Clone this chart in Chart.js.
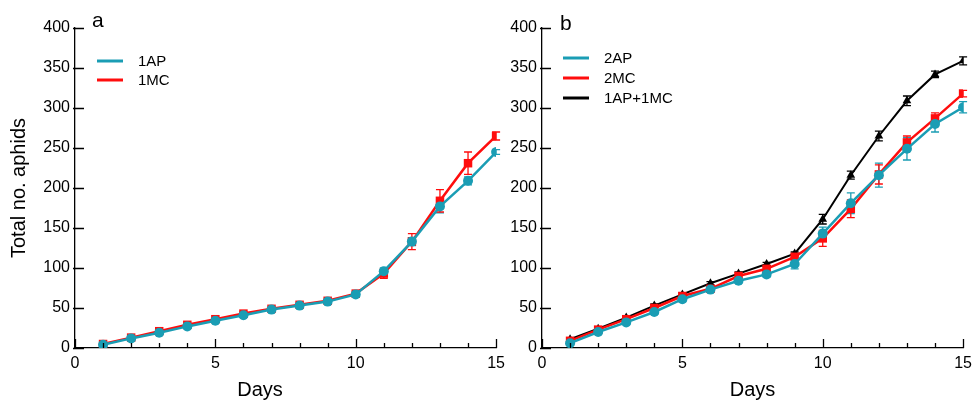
<!DOCTYPE html>
<html><head><meta charset="utf-8">
<script src="https://cdn.jsdelivr.net/npm/chart.js@4.4.0/dist/chart.umd.min.js"></script>
<style>
html,body{margin:0;padding:0;background:#fff;}
#wrap{position:relative;width:972px;height:404px;overflow:hidden;}
#ca{position:absolute;left:0;top:0;width:511px;height:404px;}
#cb{position:absolute;left:510px;top:0;width:468px;height:404px;}
</style></head><body>
<div id="wrap"><div id="ca"><canvas id="a"></canvas></div><div id="cb"><canvas id="b"></canvas></div></div>
<script>
const days = [1,2,3,4,5,6,7,8,9,10,11,12,13,14,15];
const xLabelTicks = [0,5,10,15];
const yTickValues = [0,50,100,150,200,250,300,350,400];

// Panel a
const ap1    = [4, 12, 19, 27, 34, 41, 48, 53, 58, 67, 96, 133, 177, 209, 245];
const ap1Err = [1.5,1.5,2,2,2,2,2,2,2,2,4,5,8,5,3];
const mc1    = [5, 13, 21, 29, 36, 43, 49, 54, 59, 68, 93, 133, 184, 231, 265];
const mc1Err = [1,1.5,2,2,2,2,2,2,2,2,6,10,14,14,5];

// Panel b
const ap2     = [6, 20, 32, 45, 61, 73, 84, 92, 105, 143, 181, 216, 249, 280, 301];
const ap2Err  = [2,2,2,3,3,3,3,3,6,8,13,15,14,10,7];
const mc2     = [9, 23, 36, 50, 65, 74, 90, 99, 114, 137, 174, 217, 257, 287, 318];
const mc2Err  = [2,2,2,2,2,2,2,2,3,10,11,12,8,7,4];
const apmc    = [11, 24, 38, 53, 67, 81, 93, 105, 118, 161, 216, 265, 309, 342, 359];
const apmcErr = [2,2,2,2,2,2,2,2,2,6,5,6,6,4,5];

const TEAL = '#1a9db4', RED = '#ff0d0d', BLACK = '#000000';
const FONT = 'Liberation Sans, Arial, Helvetica, sans-serif';

function pts(arr){ return days.map((d,i)=>({x:d,y:arr[i]})); }

function ds(label, arr, err, color, style, radius, lw){
  return {label, data: pts(arr), err, borderColor: color, backgroundColor: color,
    pointStyle: style, pointRadius: radius, pointHoverRadius: radius, pointBorderWidth: 0,
    borderWidth: lw, tension: 0, fill: false};
}

const errorBars = {
  id: 'errorBars',
  beforeDatasetsDraw(chart){
    const ctx = chart.ctx, xs = chart.scales.x, ys = chart.scales.y;
    chart.data.datasets.forEach((d, i) => {
      if (!d.err) return;
      ctx.save();
      ctx.strokeStyle = d.borderColor; ctx.lineWidth = 1.3;
      d.data.forEach((p, j) => {
        const e = d.err[j];
        const x = xs.getPixelForValue(p.x);
        const y1 = ys.getPixelForValue(p.y + e), y2 = ys.getPixelForValue(p.y - e);
        ctx.beginPath();
        ctx.moveTo(x, y1); ctx.lineTo(x, y2);
        ctx.moveTo(x-4, y1); ctx.lineTo(x+4, y1);
        ctx.moveTo(x-4, y2); ctx.lineTo(x+4, y2);
        ctx.stroke();
      });
      ctx.restore();
    });
  }
};

const innerTicks = {
  id: 'innerTicks',
  afterDraw(chart){
    const ctx = chart.ctx, xs = chart.scales.x, ys = chart.scales.y;
    const a = chart.chartArea;
    ctx.save();
    ctx.strokeStyle = '#000'; ctx.lineWidth = 1.3;
    ctx.beginPath();
    for (let v = 0; v <= 15; v++) {
      const x = Math.round(xs.getPixelForValue(v)) + 0.5;
      const len = (v % 5 === 0) ? 9 : 5;
      ctx.moveTo(x, a.bottom); ctx.lineTo(x, a.bottom - len);
    }
    yTickValues.forEach(v => {
      const y = Math.round(ys.getPixelForValue(v)) + 0.5;
      ctx.moveTo(a.left - 2, y); ctx.lineTo(a.left + 9, y);
    });
    ctx.stroke();
    ctx.restore();
  }
};

const extras = {
  id: 'extras',
  afterDraw(chart){
    const o = chart.options.plugins.extras;
    const ctx = chart.ctx;
    ctx.save();
    ctx.fillStyle = '#000';
    ctx.textBaseline = 'alphabetic';
    ctx.textAlign = 'left';
    ctx.font = '21px ' + FONT;
    ctx.fillText(o.panel, o.panelX, o.panelY);
    if (o.xTitle) {
      ctx.font = '20px ' + FONT;
      ctx.textAlign = 'center';
      ctx.textBaseline = 'middle';
      ctx.fillText(o.xTitle, o.xTitleX, o.xTitleY);
    }
    // legend
    ctx.font = '15px ' + FONT;
    ctx.textAlign = 'left';
    ctx.textBaseline = 'middle';
    chart.data.datasets.forEach((d, i) => {
      const y = o.legY + i * o.legGap;
      ctx.strokeStyle = d.borderColor; ctx.lineWidth = 3;
      ctx.beginPath(); ctx.moveTo(o.legX, y); ctx.lineTo(o.legX + 26, y); ctx.stroke();
      ctx.fillStyle = '#000';
      ctx.fillText(d.label, o.legX + 41, y + 1);
    });
    ctx.restore();
  }
};

function makeOpts(yWidth, padRight, showYTitle, ex){
  return {
    responsive: true, maintainAspectRatio: false, animation: false, devicePixelRatio: 1,
    layout: { padding: { left: 0, right: padRight, top: 28, bottom: 0 } },
    plugins: { legend: { display: false }, tooltip: { enabled: false }, extras: ex },
    scales: {
      x: {
        type: 'linear', min: 0, max: 15,
        afterBuildTicks: s => { s.ticks = xLabelTicks.map(v => ({value: v})); },
        afterFit: s => { s.height = 56; },
        ticks: { color: '#000', font: { family: FONT, size: 16 }, padding: 6, maxRotation: 0, autoSkip: false },
        grid: { display: false, drawTicks: false },
        border: { display: true, color: '#000', width: 1.3 },
        title: { display: !!ex.useXTitle, text: 'Days', color: '#000', font: { family: FONT, size: 20 }, padding: { top: 0, bottom: 2 } }
      },
      y: {
        type: 'linear', min: 0, max: 400,
        afterBuildTicks: s => { s.ticks = yTickValues.map(v => ({value: v})); },
        afterFit: s => { s.width = yWidth; },
        ticks: { color: '#000', font: { family: FONT, size: 16 }, padding: 5 },
        grid: { display: false, drawTicks: false },
        border: { display: true, color: '#000', width: 1.3 },
        title: { display: showYTitle, text: 'Total no. aphids', color: '#000', font: { family: FONT, size: 20 }, padding: { top: 7, bottom: 0 } }
      }
    }
  };
}

new Chart(document.getElementById('a'), {
  type: 'line',
  data: { datasets: [
    ds('1AP', ap1, ap1Err, TEAL, 'circle', 5, 2.5),
    ds('1MC', mc1, mc1Err, RED, 'rect', 6, 2.5)
  ]},
  options: makeOpts(75, 14, true, { panel: 'a', panelX: 92, panelY: 27, xTitle: 'Days', xTitleX: 260, xTitleY: 390, legX: 97, legY: 61, legGap: 19 }),
  plugins: [errorBars, innerTicks, extras]
});

new Chart(document.getElementById('b'), {
  type: 'line',
  data: { datasets: [
    ds('2AP', ap2, ap2Err, TEAL, 'circle', 5, 2.5),
    ds('2MC', mc2, mc2Err, RED, 'rect', 6, 2.5),
    ds('1AP+1MC', apmc, apmcErr, BLACK, 'triangle', 5, 2)
  ]},
  options: makeOpts(32, 9, false, { panel: 'b', panelX: 50, panelY: 30, useXTitle: true, legX: 53, legY: 58, legGap: 20 }),
  plugins: [errorBars, innerTicks, extras]
});
</script>
</body></html>
